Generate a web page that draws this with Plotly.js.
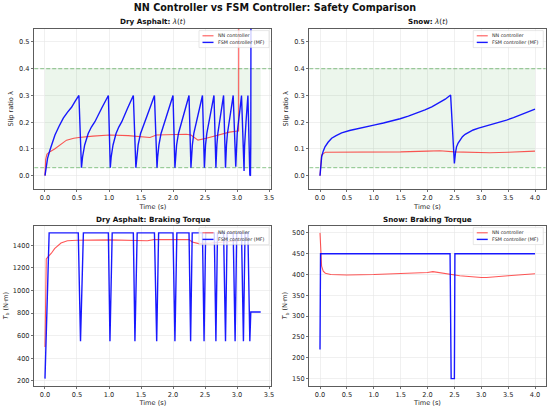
<!DOCTYPE html>
<html>
<head>
<meta charset="utf-8">
<script src="https://cdn.plot.ly/plotly-3.0.1.min.js"></script>
<style>html,body{margin:0;padding:0;background:#fff;}#chart{width:550px;height:409px;}</style>
</head>
<body>
<div id="chart"></div>
<script>
// ---------------- DATA ----------------
const safeBand = [0.03, 0.40];
const seriesNames = ['NN controller', 'FSM controller (MF)'];
const panelTitles = ['<b>Dry Asphalt:</b> <i>λ</i>(<i>t</i>)', '<b>Snow:</b> <i>λ</i>(<i>t</i>)',
                     '<b>Dry Asphalt: Braking Torque</b>', '<b>Snow: Braking Torque</b>'];

// Dry asphalt – slip ratio
const dryNNSlipT = [0, 0.01, 0.03, 0.078, 0.15, 0.234, 0.337, 0.45, 0.53, 0.75, 1.01, 1.3, 1.48, 1.64, 1.74, 2.0, 2.21, 2.28, 2.39, 2.52, 2.73, 2.88, 3.01, 3.025, 3.03, 3.37];
const dryNNSlipV = [0, 0.06, 0.08, 0.09, 0.1, 0.115, 0.133, 0.14, 0.143, 0.148, 0.152, 0.15, 0.146, 0.143, 0.152, 0.153, 0.155, 0.152, 0.133, 0.14, 0.152, 0.163, 0.167, 0.167, 1.0, 1.0];
const dryFSMSlipT = [
  0, 0.02, 0.04, 0.078, 0.115, 0.156, 0.22, 0.286, 0.35, 0.415, 0.47, 0.53,
  0.57, 0.587, 0.62, 0.675, 0.725, 0.78, 0.885, 0.99,
  1.02, 1.034, 1.063, 1.11, 1.153, 1.20, 1.29, 1.38,
  1.42, 1.432, 1.455, 1.493, 1.527, 1.565, 1.638, 1.71,
  1.75, 1.76, 1.78, 1.813, 1.843, 1.875, 1.938, 2.00,
  2.03, 2.039, 2.056, 2.085, 2.111, 2.14, 2.195, 2.25,
  2.28, 2.287, 2.302, 2.325, 2.347, 2.37, 2.415, 2.46,
  2.49, 2.496, 2.508, 2.528, 2.546, 2.565, 2.603, 2.64,
  2.67, 2.675, 2.685, 2.70, 2.714, 2.73, 2.76, 2.79,
  2.82, 2.825, 2.835, 2.85, 2.864, 2.88, 2.91, 2.94,
  2.98, 2.984, 2.99, 3.003, 3.013, 3.025, 3.048, 3.07,
  3.11, 3.113, 3.118, 3.125, 3.132, 3.14, 3.155, 3.17,
  3.20, 3.205, 3.21, 3.215, 3.22, 3.37];
const dryFSMSlipV = [
  0, 0.04, 0.065, 0.096, 0.125, 0.152, 0.185, 0.215, 0.237, 0.256, 0.278, 0.30,
  0.03, 0.07, 0.115, 0.158, 0.182, 0.202, 0.252, 0.30,
  0.03, 0.07, 0.115, 0.158, 0.182, 0.202, 0.252, 0.30,
  0.03, 0.07, 0.115, 0.158, 0.182, 0.202, 0.252, 0.30,
  0.03, 0.07, 0.115, 0.158, 0.182, 0.202, 0.252, 0.30,
  0.03, 0.07, 0.115, 0.158, 0.182, 0.202, 0.252, 0.30,
  0.03, 0.07, 0.115, 0.158, 0.182, 0.202, 0.252, 0.30,
  0.03, 0.07, 0.115, 0.158, 0.182, 0.202, 0.252, 0.30,
  0.03, 0.07, 0.115, 0.158, 0.182, 0.202, 0.252, 0.30,
  0.03, 0.07, 0.115, 0.158, 0.182, 0.202, 0.252, 0.30,
  0.034, 0.07, 0.115, 0.158, 0.182, 0.202, 0.252, 0.30,
  0.018, 0.065, 0.11, 0.155, 0.18, 0.20, 0.25, 0.30,
  0.003, 0.127, 0.0, 0.127, 1.0, 1.0];

// Snow – slip ratio
const snowNNSlipT = [0, 0.03, 0.1, 0.5, 1.0, 1.5, 2.0, 2.23, 2.5, 2.8, 3.16, 3.5, 4.0];
const snowNNSlipV = [0, 0.077, 0.088, 0.088, 0.088, 0.089, 0.092, 0.0935, 0.089, 0.087, 0.086, 0.088, 0.092];
const snowFSMSlipT = [0, 0.01, 0.02, 0.031, 0.06, 0.093, 0.15, 0.217, 0.3, 0.403, 0.55, 0.713, 0.87, 1.023, 1.18, 1.333,
  1.49, 1.643, 1.8, 1.953, 2.08, 2.23, 2.33, 2.43,
  2.5, 2.52, 2.54, 2.57, 2.60, 2.65, 2.70, 2.77, 2.85, 2.95, 3.04, 3.13, 3.22, 3.35, 3.47, 3.6, 3.72, 3.86, 4.0];
const snowFSMSlipV = [0, 0.03, 0.05, 0.071, 0.092, 0.108, 0.125, 0.14, 0.15, 0.16, 0.169, 0.177, 0.184, 0.19, 0.197, 0.204,
  0.213, 0.223, 0.234, 0.246, 0.257, 0.273, 0.286, 0.302,
  0.046, 0.085, 0.108, 0.122, 0.133, 0.146, 0.155, 0.164, 0.171, 0.178, 0.183, 0.188, 0.193, 0.2, 0.208, 0.217, 0.227, 0.238, 0.249];

// Dry asphalt – braking torque (N·m)
const dryNNTorqueT = [0, 0.01, 0.02, 0.05, 0.1, 0.15, 0.25, 0.35, 0.5, 1.0, 1.5, 1.6, 1.7, 2.0, 2.15, 2.25, 2.3, 2.4, 2.6, 2.8, 3.0, 3.03];
const dryNNTorqueV = [500, 1200, 1280, 1300, 1330, 1370, 1420, 1440, 1445, 1448, 1443, 1440, 1450, 1450, 1455, 1450, 1430, 1415, 1420, 1430, 1440, 1440];
const dryFSMTorqueT = [0, 0.065, 0.52, 0.555, 0.60, 0.99, 1.015, 1.05, 1.38, 1.405, 1.44, 1.71, 1.745, 1.775,
  2.0, 2.03, 2.06, 2.25, 2.275, 2.3, 2.46, 2.485, 2.51, 2.645, 2.67, 2.695, 2.79, 2.82, 2.845,
  2.94, 2.97, 2.995, 3.07, 3.1, 3.125, 3.17, 3.2, 3.215, 3.37];
const dryFSMTorqueV = [220, 1510, 1510, 550, 1510, 1510, 550, 1510, 1510, 550, 1510, 1510, 550, 1510,
  1510, 550, 1510, 1510, 550, 1510, 1510, 550, 1510, 1510, 550, 1510, 1510, 550, 1510,
  1510, 550, 1510, 1510, 550, 1510, 1510, 550, 810, 810];

// Snow – braking torque (N·m)
const snowNNTorqueT = [0, 0.01, 0.03, 0.06, 0.1, 0.2, 0.5, 1.0, 1.5, 2.0, 2.1, 2.5, 2.6, 3.0, 3.1, 3.5, 4.0];
const snowNNTorqueV = [500, 460, 420, 408, 403, 400, 399, 400, 402, 405, 407, 398, 397, 393, 393, 397, 402];
const snowFSMTorqueT = [0, 0.01, 2.42, 2.44, 2.5, 2.51, 4.0];
const snowFSMTorqueV = [220, 450, 450, 150, 150, 450, 450];

// ---------------- STYLE ----------------
const W = 550, H = 409;
const FONT = 'DejaVu Sans, Verdana, sans-serif';
const RED = 'rgba(255,0,0,0.66)';
const BLUE = 'rgba(0,0,255,0.9)';
const GREEN_DASH = 'rgba(0,128,0,0.5)';
const GREEN_FILL = 'rgba(0,128,0,0.075)';
const px = x => x / W;
const py = y => 1 - y / H;

const xDomL = [px(34.2), px(271.5)], xDomR = [px(309.25), px(545.75)];
const yDomT = [py(189.1), py(28.6)], yDomB = [py(385.9), py(225.6)];

function nn(x, y, xa, ya) {
  return {x: x, y: y, xaxis: xa, yaxis: ya, mode: 'lines', name: seriesNames[0], showlegend: false,
          line: {color: RED, width: 1.1}, hoverinfo: 'skip'};
}
function fsm(x, y, xa, ya) {
  return {x: x, y: y, xaxis: xa, yaxis: ya, mode: 'lines', name: seriesNames[1], showlegend: false,
          line: {color: BLUE, width: 1.4}, hoverinfo: 'skip'};
}
function band(tmax, xa, ya) {
  return {x: [0, tmax, tmax, 0, 0], y: [safeBand[0], safeBand[0], safeBand[1], safeBand[1], safeBand[0]],
          xaxis: xa, yaxis: ya, mode: 'lines', fill: 'toself', fillcolor: GREEN_FILL,
          line: {width: 0}, showlegend: false, hoverinfo: 'skip'};
}
// dashed limit lines spanning the full x-range of the axis
function limitLine(v, range, xa, ya) {
  return {x: [range[0], range[1]], y: [v, v], xaxis: xa, yaxis: ya, mode: 'lines',
          line: {color: GREEN_DASH, width: 0.9, dash: '4px,2px'}, showlegend: false, hoverinfo: 'skip'};
}

const xRangeDry = [-0.1685, 3.5385], xRangeSnow = [-0.2, 4.2];
const dryTmax = Math.max(...dryFSMTorqueT);
const snowTmax = Math.max(...snowFSMSlipT);

const traces = [
  band(dryTmax, 'x', 'y'),
  limitLine(safeBand[0], xRangeDry, 'x', 'y'), limitLine(safeBand[1], xRangeDry, 'x', 'y'),
  nn(dryNNSlipT, dryNNSlipV, 'x', 'y'),
  fsm(dryFSMSlipT, dryFSMSlipV, 'x', 'y'),
  band(snowTmax, 'x2', 'y2'),
  limitLine(safeBand[0], xRangeSnow, 'x2', 'y2'), limitLine(safeBand[1], xRangeSnow, 'x2', 'y2'),
  nn(snowNNSlipT, snowNNSlipV, 'x2', 'y2'),
  fsm(snowFSMSlipT, snowFSMSlipV, 'x2', 'y2'),
  nn(dryNNTorqueT, dryNNTorqueV, 'x3', 'y3'),
  fsm(dryFSMTorqueT, dryFSMTorqueV, 'x3', 'y3'),
  nn(snowNNTorqueT, snowNNTorqueV, 'x4', 'y4'),
  fsm(snowFSMTorqueT, snowFSMTorqueV, 'x4', 'y4')
];

const tickFont = {family: FONT, size: 6.6, color: '#262626'};
const titleFont = {family: FONT, size: 6.6, color: '#262626'};
function xax(dom, anchor, range, dtick) {
  return {domain: dom, anchor: anchor, range: range, dtick: dtick, tick0: 0, tickformat: '.1f',
          showline: true, mirror: true, linecolor: '#333', linewidth: 0.8,
          ticks: 'outside', ticklen: 2.5, tickwidth: 0.7, tickcolor: '#333',
          showgrid: true, gridcolor: '#e6e6e6', gridwidth: 0.6, zeroline: false,
          tickfont: tickFont, title: {text: 'Time (s)', font: titleFont, standoff: 2}};
}
function yax(dom, anchor, range, dtick, fmt, title, standoff) {
  return {domain: dom, anchor: anchor, range: range, dtick: dtick, tick0: 0, tickformat: fmt,
          showline: true, mirror: true, linecolor: '#333', linewidth: 0.8,
          ticks: 'outside', ticklen: 2.5, tickwidth: 0.7, tickcolor: '#333',
          showgrid: true, gridcolor: '#e6e6e6', gridwidth: 0.6, zeroline: false,
          tickfont: tickFont, title: {text: title, font: titleFont, standoff: standoff}};
}

const shapes = [];
const annotations = [];

// manual legends (upper right of each panel)
function legend(xd, yd) {
  const right = xd[1] * W - 2.5, top = (1 - yd[1]) * H + 2;
  const left = right - 70, bottom = top + 17;
  shapes.push({type: 'rect', xref: 'paper', yref: 'paper', x0: px(left), x1: px(right), y0: py(bottom), y1: py(top),
    fillcolor: 'rgba(255,255,255,0.8)', line: {color: '#d6d6d6', width: 0.6}});
  [[RED, 1.1, top + 5.2, seriesNames[0]], [BLUE, 1.4, top + 11.8, seriesNames[1]]].forEach(([c, w, yy, t]) => {
    shapes.push({type: 'line', xref: 'paper', yref: 'paper', x0: px(left + 3.5), x1: px(left + 14.5), y0: py(yy), y1: py(yy),
      line: {color: c, width: w}});
    annotations.push({xref: 'paper', yref: 'paper', x: px(left + 17), y: py(yy), text: t, showarrow: false,
      xanchor: 'left', yanchor: 'middle', font: {family: FONT, size: 4.8, color: '#262626'}});
  });
}
legend(xDomL, yDomT); legend(xDomR, yDomT); legend(xDomL, yDomB); legend(xDomR, yDomB);

// panel titles
[[xDomL, 21.7], [xDomR, 21.7], [xDomL, 219.7], [xDomR, 219.7]].forEach(([xd, yy], i) => {
  annotations.push({xref: 'paper', yref: 'paper', x: (xd[0] + xd[1]) / 2, y: py(yy), text: panelTitles[i],
    showarrow: false, xanchor: 'center', yanchor: 'middle', font: {family: FONT, size: 7.2, color: '#111'}});
});

const layout = {
  width: W, height: H, margin: {l: 0, r: 0, t: 0, b: 0},
  paper_bgcolor: '#fff', plot_bgcolor: '#fff', showlegend: false,
  font: {family: FONT},
  title: {text: '<b>NN Controller vs FSM Controller: Safety Comparison</b>', x: 0.5, xanchor: 'center',
          y: py(7.5), yanchor: 'middle', yref: 'paper', font: {family: FONT, size: 9.6, color: '#111'}},
  xaxis: xax(xDomL, 'y', xRangeDry, 0.5),
  yaxis: yax(yDomT, 'x', [-0.05, 0.55], 0.1, '.1f', 'Slip ratio λ', 4),
  xaxis2: xax(xDomR, 'y2', xRangeSnow, 0.5),
  yaxis2: yax(yDomT, 'x2', [-0.05, 0.55], 0.1, '.1f', 'Slip ratio λ', 4),
  xaxis3: xax(xDomL, 'y3', xRangeDry, 0.5),
  yaxis3: yax(yDomB, 'x3', [155.5, 1574.5], 200, 'd', '<i>T</i><sub>b</sub> (N·m)', 3),
  xaxis4: xax(xDomR, 'y4', xRangeSnow, 0.5),
  yaxis4: yax(yDomB, 'x4', [132.5, 517.5], 50, 'd', '<i>T</i><sub>b</sub> (N·m)', 3),
  shapes: shapes, annotations: annotations
};

Plotly.newPlot('chart', traces, layout, {staticPlot: true, displayModeBar: false});
</script>
</body>
</html>
